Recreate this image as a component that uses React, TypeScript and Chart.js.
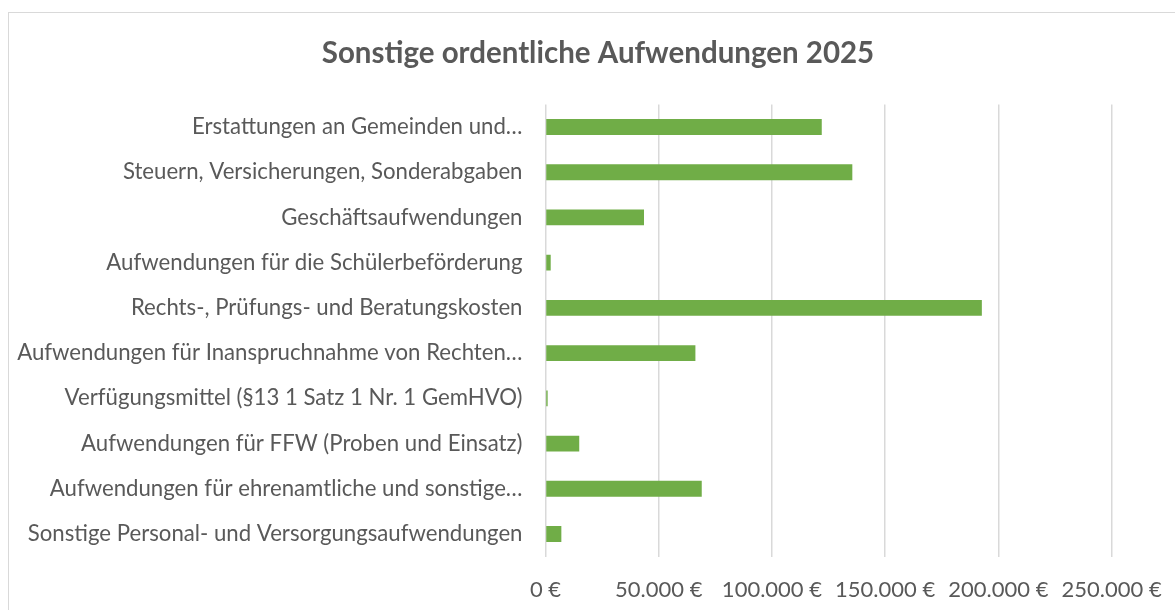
import React, { useEffect, useRef } from "react";
import { Chart, registerables } from "chart.js";

Chart.register(...registerables);

const titleText = "Sonstige ordentliche Aufwendungen 2025";

const categories = [
  "Erstattungen an Gemeinden und…",
  "Steuern, Versicherungen, Sonderabgaben",
  "Geschäftsaufwendungen",
  "Aufwendungen für die Schülerbeförderung",
  "Rechts-, Prüfungs- und Beratungskosten",
  "Aufwendungen für Inanspruchnahme von Rechten…",
  "Verfügungsmittel (§13 1 Satz 1 Nr. 1 GemHVO)",
  "Aufwendungen für FFW (Proben und Einsatz)",
  "Aufwendungen für ehrenamtliche und sonstige…",
  "Sonstige Personal- und Versorgungsaufwendungen",
];

const values = [122000, 135500, 43500, 2300, 192700, 66200, 950, 14900, 69000, 7000];

const xMin = 0;
const xMax = 250000;
const xStep = 50000;

const fmtEuro = (v: number) =>
  String(Math.round(v)).replace(/\B(?=(\d{3})+(?!\d))/g, ".") + " €";

const FONT = "Lato, 'Open Sans', sans-serif";
const TEXT = "#595959";
const GRID = "#d9d9d9";

export default function App() {
  const ref = useRef<HTMLCanvasElement | null>(null);

  useEffect(() => {
    if (!ref.current) return;
    const chart = new Chart(ref.current, {
      type: "bar",
      data: {
        labels: categories,
        datasets: [
          {
            data: values,
            backgroundColor: "#70ad47",
            borderColor: "#70ad47",
            borderWidth: 0,
            barPercentage: 0.35,
            categoryPercentage: 1,
          },
        ],
      },
      options: {
        indexAxis: "y",
        animation: false,
        responsive: false,
        maintainAspectRatio: false,
        layout: { padding: { left: 0, right: 0, top: 0, bottom: 0 } },
        plugins: {
          legend: { display: false },
          tooltip: { enabled: false },
          title: {
            display: true,
            text: titleText,
            color: TEXT,
            font: { family: FONT, size: 29.5, weight: "bold" },
            padding: { top: 22.3, bottom: 33.7 },
          },
        },
        scales: {
          x: {
            min: xMin,
            max: xMax,
            border: { display: false },
            grid: { color: GRID, lineWidth: 1.5, drawTicks: false },
            ticks: {
              stepSize: xStep,
              color: TEXT,
              font: { family: FONT, size: 22 },
              padding: 20,
              maxRotation: 0,
              callback: (v: any) => fmtEuro(Number(v)),
            },
            afterFit: (s: any) => {
              s.height = 53.4;
            },
          },
          y: {
            border: { display: false },
            grid: { display: false, drawTicks: false },
            ticks: {
              color: TEXT,
              font: { family: FONT, size: 22.2 },
              padding: 23,
              autoSkip: false,
            },
            afterFit: (s: any) => {
              s.width = 536.5;
            },
          },
          yRight: {
            position: "right",
            display: true,
            border: { display: false },
            grid: { display: false, drawTicks: false },
            ticks: { display: false },
            afterFit: (s: any) => {
              s.width = 75.4;
            },
          },
        },
      },
    } as any);
    return () => chart.destroy();
  }, []);

  return (
    <div
      style={{
        position: "absolute",
        left: 8,
        top: 12,
        width: 1167,
        height: 598,
        borderTop: "1px solid #d9d9d9",
        borderLeft: "1px solid #d9d9d9",
        overflow: "hidden",
        background: "#fff",
      }}
    >
      <canvas ref={ref} width={1178} height={597} style={{ display: "block" }} />
    </div>
  );
}
